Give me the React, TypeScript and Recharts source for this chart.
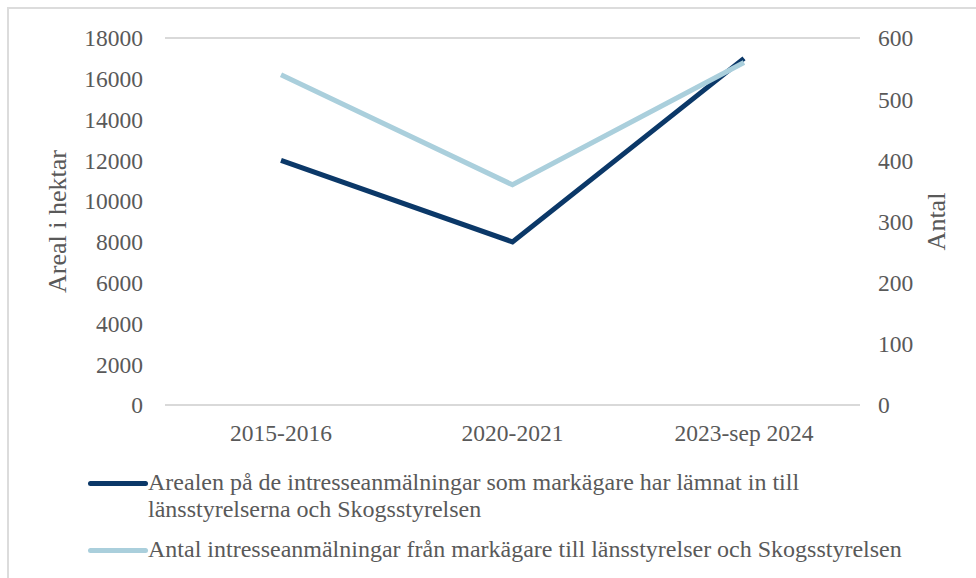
import React from 'react';
import { LineChart, Line, XAxis, YAxis, CartesianGrid } from 'recharts';

const categories = ['2015-2016', '2020-2021', '2023-sep 2024'];
const arealValues = [12000, 8000, 17000];
const antalValues = [540, 360, 560];
const leftTicks = [0, 2000, 4000, 6000, 8000, 10000, 12000, 14000, 16000, 18000];
const rightTicks = [0, 100, 200, 300, 400, 500, 600];

const DARK = '#0b3868';
const LIGHT = '#aacfdc';
const TEXT = '#595959';
const FONT = '"Liberation Serif", "Times New Roman", serif';

const data = categories.map((c, i) => ({
  name: c,
  areal: arealValues[i],
  antal: antalValues[i],
}));

const legendItems = [
  {
    color: DARK,
    text: 'Arealen på de intresseanmälningar som markägare har lämnat in till länsstyrelserna och Skogsstyrelsen',
  },
  {
    color: LIGHT,
    text: 'Antal intresseanmälningar från markägare till länsstyrelser och Skogsstyrelsen',
  },
];

const tickStyle = { fill: TEXT, fontSize: 23.5, fontFamily: FONT };

const App: React.FC = () => {
  return (
    <div style={{ position: 'absolute', left: 0, top: 0, width: 976, height: 578, background: '#fff', fontFamily: FONT, overflow: 'hidden' }}>
      {/* frame */}
      <div
        style={{
          position: 'absolute',
          left: 7,
          top: 7,
          right: -10,
          bottom: -10,
          borderLeft: '2px solid #dcdcdc',
          borderTop: '2px solid #dcdcdc',
        }}
      />
      <div style={{ position: 'absolute', left: 0, top: 0 }}>
        <LineChart width={976} height={578} data={data} margin={{ top: 38, right: 0, bottom: 133, left: 0 }}>
          <CartesianGrid vertical={false} stroke="#d9d9d9" strokeWidth={2} />
          <XAxis
            dataKey="name"
            axisLine={false}
            tickLine={false}
            height={40}
            tickMargin={13}
            tick={tickStyle}
            interval={0}
            padding={{ left: 116, right: 116 }}
          />
          <YAxis
            yAxisId="left"
            domain={[0, 18000]}
            ticks={leftTicks}
            width={165}
            axisLine={false}
            tickLine={false}
            tickMargin={16}
            tick={tickStyle}
            label={{
              content: ({ viewBox }: any) => {
                const cy = viewBox.y + viewBox.height / 2;
                return (
                  <text
                    x={66}
                    y={cy}
                    transform={`rotate(-90, 66, ${cy})`}
                    textAnchor="middle"
                    fill={TEXT}
                    fontSize={26}
                    fontFamily={FONT}
                  >
                    Areal i hektar
                  </text>
                );
              },
            }}
          />
          <YAxis
            yAxisId="right"
            orientation="right"
            domain={[0, 600]}
            ticks={rightTicks}
            width={116}
            axisLine={false}
            tickLine={false}
            tickMargin={12}
            tick={tickStyle}
            label={{
              content: ({ viewBox }: any) => {
                const cy = viewBox.y + viewBox.height / 2;
                return (
                  <text
                    x={945}
                    y={cy}
                    transform={`rotate(-90, 945, ${cy})`}
                    textAnchor="middle"
                    fill={TEXT}
                    fontSize={26}
                    fontFamily={FONT}
                  >
                    Antal
                  </text>
                );
              },
            }}
          />
          <Line
            yAxisId="left"
            dataKey="areal"
            stroke={DARK}
            strokeWidth={5}
            dot={false}
            isAnimationActive={false}
          />
          <Line
            yAxisId="right"
            dataKey="antal"
            stroke={LIGHT}
            strokeWidth={5}
            dot={false}
            isAnimationActive={false}
          />
        </LineChart>
      </div>

      {/* legend */}
      <div style={{ position: 'absolute', left: 88, top: 469, width: 860 }}>
        {legendItems.map((item, i) => (
          <div key={i} style={{ display: 'flex', alignItems: 'flex-start', marginBottom: 13 }}>
            <div
              style={{
                width: 60,
                height: 5,
                borderRadius: 3,
                background: item.color,
                marginTop: 12,
                flexShrink: 0,
              }}
            />
            <div style={{ color: TEXT, fontSize: 24, lineHeight: '27px', width: 780, whiteSpace: i === 1 ? 'nowrap' : 'normal' }}>
              {item.text}
            </div>
          </div>
        ))}
      </div>
    </div>
  );
};

export default App;
